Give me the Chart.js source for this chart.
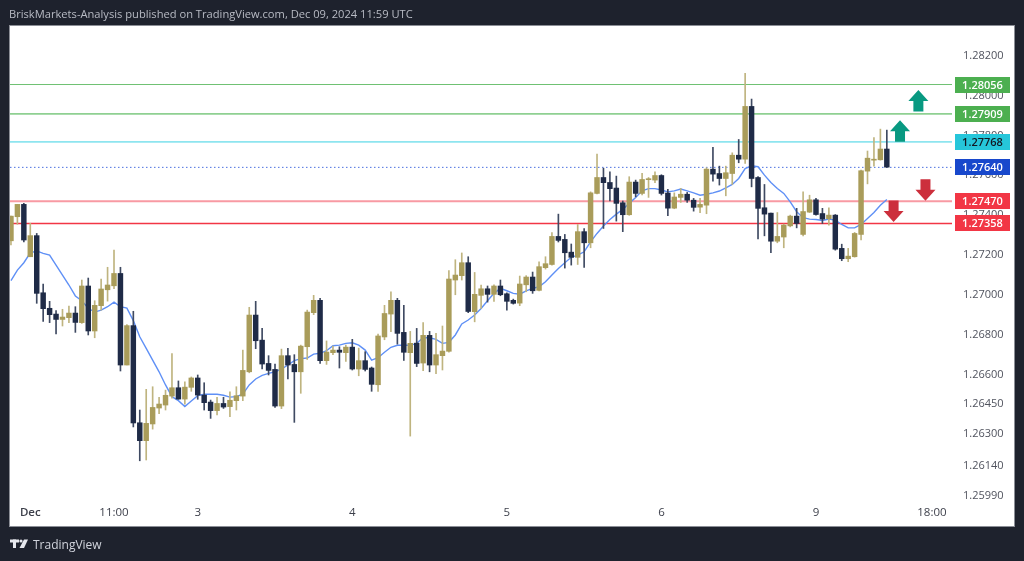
<!DOCTYPE html>
<html><head><meta charset="utf-8">
<style>html,body{margin:0;padding:0;background:#1e222d}canvas{display:block}</style>
<script src="https://cdn.jsdelivr.net/npm/chart.js@4/dist/chart.umd.min.js"></script>
</head><body><canvas id="c" width="1024" height="561"></canvas>
<script>
const opens=[1.27271,1.27392,1.27454,1.27191,1.27297,1.27010,1.26932,1.26903,1.26876,1.26885,1.26908,1.26860,1.27044,1.26818,1.26945,1.27025,1.27045,1.27107,1.26647,1.26845,1.26357,1.26267,1.26351,1.26431,1.26446,1.26491,1.26533,1.26476,1.26535,1.26582,1.26496,1.26461,1.26418,1.26454,1.26438,1.26468,1.26491,1.26613,1.26898,1.26772,1.26655,1.26625,1.26441,1.26694,1.26650,1.26613,1.26739,1.26910,1.26972,1.26669,1.26709,1.26722,1.26709,1.26737,1.26627,1.26669,1.26632,1.26548,1.26788,1.26903,1.26972,1.26811,1.26709,1.26757,1.26657,1.26796,1.26647,1.26694,1.26716,1.27074,1.27096,1.27161,1.26915,1.26997,1.27030,1.27002,1.27044,1.27005,1.26972,1.26958,1.27050,1.27089,1.27022,1.27136,1.27152,1.27293,1.27278,1.27214,1.27188,1.27317,1.27261,1.27509,1.27589,1.27564,1.27536,1.27462,1.27402,1.27566,1.27509,1.27578,1.27576,1.27599,1.27511,1.27435,1.27489,1.27505,1.27475,1.27440,1.27450,1.27631,1.27609,1.27584,1.27609,1.27701,1.27681,1.27946,1.27589,1.27437,1.27410,1.27269,1.27290,1.27346,1.27395,1.27303,1.27415,1.27477,1.27408,1.27382,1.27400,1.27233,1.27181,1.27191,1.27303,1.27621,1.27676,1.27678,1.27732];
const highs=[1.27395,1.27454,1.27459,1.27359,1.27308,1.27054,1.26967,1.26920,1.26927,1.26943,1.26940,1.27074,1.27084,1.26970,1.27079,1.27138,1.27225,1.27138,1.26850,1.26917,1.26421,1.26525,1.26538,1.26485,1.26521,1.26704,1.26567,1.26563,1.26587,1.26597,1.26558,1.26471,1.26485,1.26485,1.26513,1.26538,1.26722,1.26937,1.26967,1.26831,1.26694,1.26652,1.26727,1.26731,1.26699,1.26747,1.26923,1.26997,1.26982,1.26768,1.26742,1.26739,1.26747,1.26776,1.26732,1.26714,1.26637,1.26803,1.26947,1.27015,1.26982,1.26947,1.26816,1.26831,1.26860,1.26816,1.26806,1.26843,1.27122,1.27176,1.27210,1.27191,1.27112,1.27049,1.27044,1.27050,1.27074,1.27010,1.26978,1.27094,1.27096,1.27114,1.27166,1.27191,1.27312,1.27405,1.27303,1.27255,1.27353,1.27332,1.27517,1.27707,1.27636,1.27618,1.27596,1.27471,1.27593,1.27576,1.27610,1.27589,1.27618,1.27603,1.27529,1.27512,1.27534,1.27514,1.27484,1.27484,1.27638,1.27740,1.27646,1.27646,1.27713,1.27780,1.28112,1.27983,1.27593,1.27554,1.27410,1.27413,1.27355,1.27400,1.27434,1.27517,1.27500,1.27484,1.27434,1.27437,1.27403,1.27254,1.27233,1.27313,1.27626,1.27722,1.27790,1.27832,1.27827];
const lows=[1.27250,1.27354,1.27266,1.27191,1.26957,1.26866,1.26860,1.26803,1.26843,1.26860,1.26811,1.26856,1.26798,1.26784,1.26923,1.26968,1.27030,1.26617,1.26647,1.26336,1.26166,1.26170,1.26325,1.26403,1.26421,1.26480,1.26475,1.26451,1.26515,1.26475,1.26421,1.26379,1.26396,1.26429,1.26387,1.26421,1.26468,1.26608,1.26729,1.26627,1.26597,1.26434,1.26428,1.26577,1.26359,1.26505,1.26675,1.26900,1.26655,1.26650,1.26699,1.26632,1.26665,1.26622,1.26593,1.26617,1.26515,1.26515,1.26774,1.26814,1.26752,1.26670,1.26290,1.26639,1.26619,1.26613,1.26603,1.26622,1.26711,1.27000,1.27074,1.26910,1.26864,1.26931,1.26963,1.26967,1.26995,1.26923,1.26953,1.26945,1.27015,1.27007,1.27019,1.27129,1.27149,1.27265,1.27134,1.27149,1.27152,1.27137,1.27236,1.27506,1.27333,1.27471,1.27370,1.27317,1.27399,1.27492,1.27501,1.27489,1.27563,1.27501,1.27397,1.27432,1.27464,1.27464,1.27420,1.27412,1.27407,1.27571,1.27551,1.27497,1.27554,1.27663,1.27660,1.27542,1.27280,1.27296,1.27211,1.27261,1.27236,1.27341,1.27336,1.27296,1.27413,1.27400,1.27358,1.27350,1.27224,1.27171,1.27166,1.27189,1.27275,1.27557,1.27646,1.27676,1.27640];
const closes=[1.27395,1.27454,1.27275,1.27297,1.27007,1.26930,1.26900,1.26876,1.26888,1.26908,1.26861,1.27044,1.26818,1.26947,1.27029,1.27049,1.27107,1.26647,1.26845,1.26356,1.26267,1.26354,1.26434,1.26451,1.26495,1.26533,1.26476,1.26536,1.26582,1.26496,1.26458,1.26418,1.26454,1.26436,1.26470,1.26493,1.26620,1.26898,1.26769,1.26652,1.26620,1.26441,1.26694,1.26647,1.26613,1.26742,1.26913,1.26972,1.26669,1.26712,1.26722,1.26711,1.26737,1.26627,1.26669,1.26625,1.26550,1.26793,1.26906,1.26972,1.26806,1.26711,1.26756,1.26655,1.26796,1.26647,1.26699,1.26717,1.27079,1.27099,1.27161,1.26916,1.27002,1.27030,1.27002,1.27044,1.27000,1.26967,1.26957,1.27054,1.27089,1.27020,1.27141,1.27156,1.27293,1.27273,1.27211,1.27188,1.27317,1.27261,1.27512,1.27589,1.27563,1.27533,1.27459,1.27402,1.27566,1.27509,1.27579,1.27583,1.27599,1.27509,1.27435,1.27491,1.27505,1.27475,1.27439,1.27454,1.27631,1.27606,1.27584,1.27613,1.27701,1.27681,1.27946,1.27584,1.27434,1.27405,1.27269,1.27293,1.27350,1.27395,1.27358,1.27418,1.27477,1.27403,1.27380,1.27400,1.27229,1.27181,1.27194,1.27308,1.27623,1.27686,1.27681,1.27732,1.27641];
const ema=[1.27071,1.27124,1.27161,1.27211,1.27220,1.27208,1.27199,1.27149,1.27099,1.27049,1.26994,1.26970,1.26932,1.26913,1.26923,1.26940,1.26963,1.26940,1.26933,1.26870,1.26789,1.26731,1.26672,1.26613,1.26547,1.26488,1.26468,1.26438,1.26466,1.26493,1.26500,1.26500,1.26500,1.26495,1.26486,1.26488,1.26501,1.26547,1.26577,1.26595,1.26605,1.26613,1.26627,1.26647,1.26669,1.26679,1.26682,1.26702,1.26706,1.26719,1.26744,1.26747,1.26756,1.26759,1.26747,1.26722,1.26672,1.26684,1.26711,1.26736,1.26746,1.26746,1.26746,1.26756,1.26784,1.26784,1.26776,1.26756,1.26761,1.26798,1.26853,1.26873,1.26898,1.26931,1.26970,1.27007,1.27032,1.27020,1.27007,1.27003,1.27020,1.27032,1.27040,1.27065,1.27099,1.27132,1.27161,1.27188,1.27199,1.27216,1.27266,1.27308,1.27345,1.27378,1.27405,1.27429,1.27459,1.27489,1.27522,1.27533,1.27533,1.27526,1.27517,1.27522,1.27531,1.27522,1.27512,1.27500,1.27505,1.27512,1.27521,1.27537,1.27554,1.27584,1.27634,1.27648,1.27643,1.27601,1.27564,1.27534,1.27509,1.27467,1.27417,1.27387,1.27380,1.27378,1.27373,1.27380,1.27375,1.27353,1.27336,1.27336,1.27353,1.27383,1.27413,1.27450,1.27479];
const yTicks=[1.282,1.28,1.278,1.276,1.274,1.272,1.27,1.268,1.266,1.2645,1.263,1.2614,1.2599];
const xTickIndex=[3,16,29,53,77,101,125,143];
const xTickLabels=['Dec','11:00','3','4','5','6','9','18:00'];
const levelPrices=[1.28056,1.27909,1.27768,1.2764,1.2747,1.27358];
const levelLabels=['1.28056','1.27909','1.27768','1.27640','1.27470','1.27358'];
const levelLine=['#6fc173','#8fd092','#8ee5ef','#4a6fe0','#f89aa3','#f23645'];
const levelTag=['#4caf50','#4caf50','#26c6da','#1848cc','#f23645','#f23645'];
const levelText=['#fff','#fff','#131722','#fff','#fff','#fff'];
const levelWidth=[1,1.8,1.8,1,2,1.6];
const arrowIndex=[140.9,138.05,142,137.05];
const arrowPrice=[1.28028,1.27877,1.27472,1.27366];
const arrowDir=[1,1,-1,-1];

const UP='#a99c5a',DOWN='#1f2b47',UPW='#bfb47f',DOWNW='#3f4a62';
const isUp=closes.map((c,i)=>c>=opens[i]);
const xMin=-0.15,xMax=146.12;
const datasets=[];
levelPrices.forEach((p,i)=>datasets.push({type:'line',data:[{x:xMin,y:p},{x:xMax,y:p}],borderColor:levelLine[i],borderWidth:levelWidth[i],borderDash:i===3?[1.5,2.5]:[],pointRadius:0,order:5}));
datasets.push({type:'line',data:ema.map((y,x)=>({x,y})),borderColor:'#5f90f6',borderWidth:1.4,pointRadius:0,tension:0,order:4});
datasets.push({type:'bar',data:highs.map((h,x)=>({x,y:[lows[x],h]})),backgroundColor:isUp.map(u=>u?UPW:DOWNW),barThickness:1,grouped:false,order:3});
datasets.push({type:'bar',data:opens.map((o,x)=>({x,y:[o,closes[x]]})),backgroundColor:isUp.map(u=>u?UP:DOWN),barThickness:4.8,grouped:false,order:2});

const frame={id:'frame',
 beforeDraw(ch){const c=ch.ctx;c.save();
  c.fillStyle='#1e222d';c.fillRect(0,0,1024,561);
  c.fillStyle='#fff';c.fillRect(10,26,1004,500);
  c.strokeStyle='#8b8e96';c.lineWidth=1;c.strokeRect(9.5,25.5,1005,501);
  c.restore();},
 afterDraw(ch){const c=ch.ctx,ys=ch.scales.y,xs=ch.scales.x;c.save();
  arrowIndex.forEach((ix,i)=>{const x=xs.getPixelForValue(ix),y=ys.getPixelForValue(arrowPrice[i]),d=arrowDir[i];
   c.fillStyle=d>0?'#089981':'#cc2f3c';c.beginPath();
   c.moveTo(x,y);c.lineTo(x+10,y+d*11);c.lineTo(x+5,y+d*11);c.lineTo(x+5,y+d*21.5);
   c.lineTo(x-5,y+d*21.5);c.lineTo(x-5,y+d*11);c.lineTo(x-10,y+d*11);c.closePath();c.fill();});
  c.textBaseline='middle';c.textAlign='center';c.font='600 11px "Open Sans"';
  levelPrices.forEach((p,i)=>{const y=Math.round(ys.getPixelForValue(p));
   c.fillStyle=levelTag[i];c.fillRect(955,y-8,55,16);
   c.fillStyle=levelText[i];c.fillText(levelLabels[i],982.5,y+0.5);});
  c.textAlign='left';c.textBaseline='alphabetic';
  c.fillStyle='#b8bbc4';c.font='11.15px "Open Sans"';
  c.fillText('BriskMarkets-Analysis published on TradingView.com, Dec 09, 2024 11:59 UTC',9,18);
  c.fillStyle='#d1d4dc';c.font='12px "Open Sans"';
  c.fillText('TradingView',33,549);
  c.fillStyle='#e6e8ee';
  c.fillRect(10,539.5,9,3);c.fillRect(13,539.5,3,8.5);
  c.beginPath();c.arc(21,541,1.6,0,7);c.fill();
  c.beginPath();c.moveTo(24,539.5);c.lineTo(28,539.5);c.lineTo(24,548);c.lineTo(19.5,548);c.closePath();c.fill();
  c.restore();}};

new Chart(document.getElementById('c'),{type:'bar',data:{datasets},plugins:[frame],
 options:{responsive:false,animation:false,events:[],
  layout:{padding:{left:10,top:26,right:10,bottom:35}},
  plugins:{legend:{display:false},tooltip:{enabled:false},title:{display:false}},
  scales:{
   x:{type:'linear',offset:false,min:xMin,max:xMax,grid:{display:false,drawTicks:false},border:{display:false},
    afterBuildTicks(s){s.ticks=xTickIndex.map(v=>({value:v}));},
    afterFit(s){s.height=25;},
    ticks:{autoSkip:false,maxRotation:0,padding:5,color:'#3c3f4a',
     font:c=>({family:'"Open Sans"',size:11.5,weight:c.tick&&c.tick.value===3?'600':'400'}),
     callback:v=>xTickLabels[xTickIndex.indexOf(v)]}},
   y:{type:'linear',position:'right',min:1.25964,max:1.2835,grid:{display:false,drawTicks:false},border:{display:false},
    afterBuildTicks(s){s.ticks=yTicks.map(v=>({value:v}));},
    afterFit(s){s.width=62;},
    ticks:{autoSkip:false,padding:11,color:'#50535e',font:{family:'"Open Sans"',size:11},
     callback:v=>v.toFixed(5)}}
  }}});
</script></body></html>
